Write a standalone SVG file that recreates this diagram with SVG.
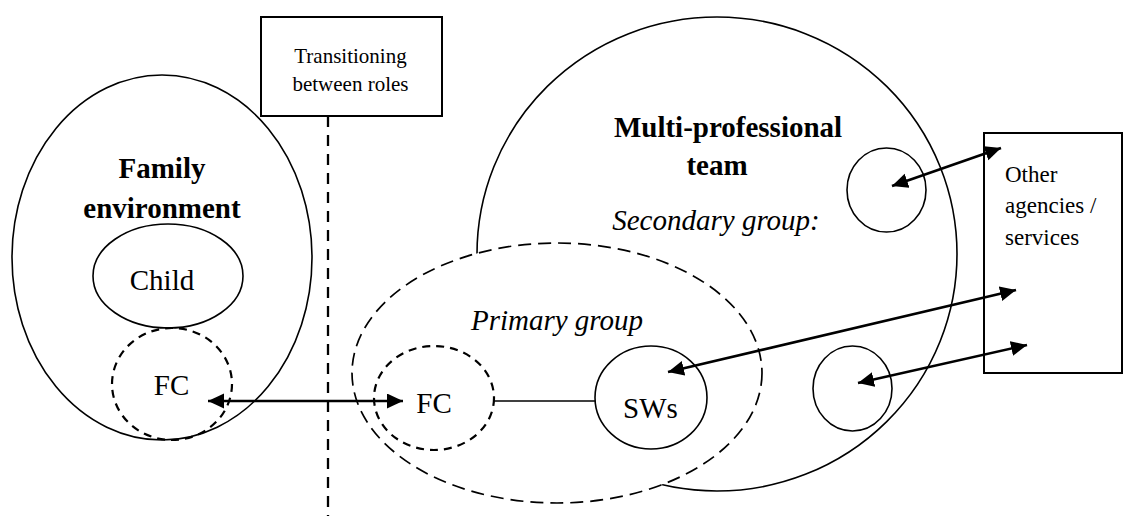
<svg xmlns="http://www.w3.org/2000/svg" width="1125" height="521" viewBox="0 0 1125 521">
<defs>
<style>
.s{fill:none;stroke:#000;stroke-width:1.6}
.box{fill:#fff;stroke:#000;stroke-width:2}
.dc{fill:none;stroke:#000;stroke-width:2.2;stroke-dasharray:8 6}
.dp{fill:#fff;stroke:#000;stroke-width:1.7;stroke-dasharray:13 7}
.vl{stroke:#000;stroke-width:2.3;stroke-dasharray:11 8;fill:none}
.t{font-family:"Liberation Serif","Times New Roman",serif;font-size:29px;fill:#000}
.b{font-weight:bold}
.i{font-style:italic}
.sm{font-size:21px}
.md{font-size:23px}
.arr{stroke:#000;stroke-width:2.6;fill:none;marker-start:url(#ah);marker-end:url(#ah)}
.ln{stroke:#000;stroke-width:1.6;fill:none}
</style>
<marker id="ah" markerUnits="userSpaceOnUse" markerWidth="17" markerHeight="16" refX="16" refY="7.5" orient="auto-start-reverse">
<path d="M0,0 L16,7.5 L0,15 z" fill="#000"/>
</marker>
</defs>
<rect width="1125" height="521" fill="#fff"/>

<g id="transition">
<line class="vl" x1="328" y1="116" x2="328" y2="516"/>
<rect class="box" x="261" y="17" width="181" height="99"/>
<text class="t sm" x="350.5" y="63" text-anchor="middle">Transitioning</text>
<text class="t sm" x="350.5" y="91" text-anchor="middle">between roles</text>
</g>

<g id="family">
<ellipse class="s" cx="162" cy="257.5" rx="150" ry="182.5"/>
<text class="t b" x="162" y="178" text-anchor="middle">Family</text>
<text class="t b" x="162" y="218" text-anchor="middle">environment</text>
</g>

<g id="child">
<ellipse class="s" cx="168" cy="276" rx="75" ry="52"/>
<text class="t" x="162" y="290" text-anchor="middle">Child</text>
</g>

<g id="fc-family">
<ellipse class="dc" cx="172" cy="384" rx="60" ry="56"/>
<text class="t" x="171.5" y="395" text-anchor="middle">FC</text>
</g>

<g id="multi-professional">
<ellipse class="s" cx="717" cy="254" rx="240" ry="237"/>
<text class="t b" x="728" y="137" text-anchor="middle">Multi-professional</text>
<text class="t b" x="717" y="175" text-anchor="middle">team</text>
<text class="t i" x="716" y="230" text-anchor="middle">Secondary group:</text>
</g>

<g id="primary-group">
<ellipse class="dp" cx="557" cy="373" rx="205" ry="130"/>
<text class="t i" x="557" y="330" text-anchor="middle">Primary group</text>
</g>

<g id="fc-team">
<ellipse class="dc" cx="434" cy="398" rx="60" ry="52"/>
<text class="t" x="434" y="413" text-anchor="middle">FC</text>
</g>

<g id="sws">
<ellipse class="s" cx="651" cy="397.5" rx="56" ry="51.5"/>
<text class="t" x="650.5" y="418" text-anchor="middle">SWs</text>
</g>

<g id="member-1">
<ellipse class="s" cx="886.5" cy="190" rx="39.5" ry="42"/>
</g>

<g id="member-2">
<ellipse class="s" cx="852.5" cy="388.5" rx="39.5" ry="42.5"/>
</g>

<g id="other-agencies">
<rect class="box" x="984" y="133" width="138" height="240"/>
<text class="t md" x="1005" y="182">Other</text>
<text class="t md" x="1005" y="213">agencies /</text>
<text class="t md" x="1005" y="245">services</text>
</g>

<g id="connectors">
<line class="ln" x1="494" y1="401" x2="595" y2="401"/>
<line class="arr" x1="208" y1="401" x2="403" y2="401"/>
<line class="arr" x1="892" y1="186" x2="1001" y2="148"/>
<line class="arr" x1="668" y1="372" x2="1016" y2="290"/>
<line class="arr" x1="858" y1="383" x2="1027" y2="345"/>
</g>
</svg>
